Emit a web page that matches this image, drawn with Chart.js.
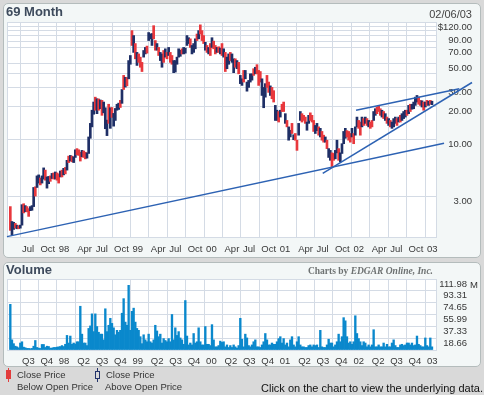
<!DOCTYPE html>
<html>
<head>
<meta charset="utf-8">
<script src="https://cdn.jsdelivr.net/npm/chart.js@4.4.1/dist/chart.umd.min.js"></script>
<style>
  body { margin: 0; background: #d9d9d9; font-family: 'Liberation Sans', Arial, sans-serif; }
  #page { position: relative; width: 484px; height: 395px; overflow: hidden; }
  .panel { position: absolute; left: 3px; width: 478px; background: #f3f7f7; border: 1px solid #b4bcbc; border-radius: 5px; box-sizing: border-box; }
  canvas { position: absolute; left: 0; }
  .txt { position: absolute; white-space: nowrap; color: #333; font-size: 9.5px; line-height: 11px; }
  .mark { position: absolute; }
</style>
</head>
<body>
<div id="page">
  <div class="panel" style="top:3px;height:255px"></div>
  <div class="panel" style="top:262px;height:105px"></div>
  <canvas id="price" width="484" height="260" style="top:0"></canvas>
  <canvas id="volume" width="484" height="114" style="top:258px"></canvas>

  <div class="txt" style="left:6px;top:5px;font:bold 13px/14px 'Liberation Sans';color:#3d4a5c">69 Month</div>
  <div class="txt" style="right:12px;top:8px;font-size:11px;line-height:12px;color:#444">02/06/03</div>
  <div class="txt" style="left:6px;top:263px;font:bold 13px/14px 'Liberation Sans';color:#3d4a5c">Volume</div>
  <div class="txt" style="right:51px;top:266px;font:bold 9.5px/11px 'Liberation Serif';color:#6e7272">Charts by <i>EDGAR Online, Inc.</i></div>
  <div class="txt" style="left:470px;top:279px">M</div>

  <div class="mark" style="left:7.5px;top:368px;width:1px;height:14px;background:#e23c3c"></div>
  <div class="mark" style="left:5.5px;top:370px;width:5px;height:9px;background:#e23c3c"></div>
  <div class="txt" style="left:17px;top:369px">Close Price</div>
  <div class="txt" style="left:17px;top:381px">Below Open Price</div>
  <div class="mark" style="left:96.5px;top:368px;width:1px;height:14px;background:#22336b"></div>
  <div class="mark" style="left:94.5px;top:370.5px;width:5px;height:8px;border:1px solid #22336b;background:#d9d9d9;box-sizing:border-box"></div>
  <div class="txt" style="left:106px;top:369px">Close Price</div>
  <div class="txt" style="left:105px;top:381px">Above Open Price</div>
  <div class="txt" style="left:261px;top:382px;font-size:11px;line-height:12px;color:#111">Click on the chart to view the underlying data.</div>
</div>
<script>
// months counted from Jan 1997 (6 = Jul 97, 72 = Jan 03)
const quarterTicks = [6, 9, 12, 15, 18, 21, 24, 27, 30, 33, 36, 39, 42, 45, 48, 51, 54, 57, 60, 63, 66, 69, 72];
const priceQuarterLabels = ['Jul', 'Oct', '98', 'Apr', 'Jul', 'Oct', '99', 'Apr', 'Jul', 'Oct', '00', 'Apr',
  'Jul', 'Oct', '01', 'Apr', 'Jul', 'Oct', '02', 'Apr', 'Jul', 'Oct', '03'];
const volumeQuarterLabels = ['Q3', 'Q4', '98', 'Q2', 'Q3', 'Q4', '99', 'Q2', 'Q3', 'Q4', '00', 'Q2',
  'Q3', 'Q4', '01', 'Q2', 'Q3', 'Q4', '02', 'Q2', 'Q3', 'Q4', '03'];

const priceGridValues = [3, 10, 20, 30, 40, 50, 70, 80, 90, 100, 110, 120];
const priceTickValues = [3, 10, 20, 30, 50, 70, 90, 120];
const priceTickLabels = ['3.00', '10.00', '20.00', '30.00', '50.00', '70.00', '90.00', '$120.00'];
const volumeTickValues = [18.66, 37.33, 55.99, 74.65, 93.31, 111.98];

// bars run from mid May 1997 to early Feb 2003
const firstBarMonth = 4.42;
const barStepMonths = 0.2716;

const priceHigh = [
  2.4, 1.75, 1.72, 1.68, 1.62, 1.6, 1.62, 2.5, 2.55, 2.45,
  2.4, 2.3, 2.4, 2.45, 3.6, 3.65, 4.6, 4.7, 4.4, 4.6,
  5.45, 5.2, 4.5, 4.55, 4.6, 4.85, 4.9, 5.0, 4.9, 4.8,
  5.1, 5.2, 5.4, 5.5, 6.4, 7.0, 7.1, 7.0, 6.9, 8.0,
  8.2, 8.0, 7.6, 7.9, 7.8, 7.6, 7.5, 10.5, 14, 18.5,
  22, 24.4, 23.6, 23.5, 23, 22.8, 22, 19.5, 15, 21,
  19.5, 19.6, 17.3, 19.2, 21, 21.5, 22.8, 28.7, 38.7, 37.2,
  37, 53, 59, 100, 90, 76, 63, 61, 57, 51,
  65.6, 70, 72, 96, 93, 94, 111, 81, 76, 70,
  63, 61, 65.6, 68, 63, 70, 63, 59, 53, 53,
  57, 68, 66, 68, 70, 69, 90, 86, 84, 73,
  76, 84, 93, 100, 113, 100, 90, 78, 73, 70,
  76, 86, 80, 73, 70, 71, 69, 76, 68, 63,
  57, 61, 63, 61, 55, 55, 53, 51, 38.7, 36,
  43, 43, 33.6, 34.8, 40, 40, 44.6, 46, 48.6, 43,
  42, 36, 30, 32.5, 38.7, 33.6, 31, 30, 28, 20.5,
  18.5, 18, 18.5, 21, 22, 17.2, 14.9, 13, 12.1, 14,
  11, 11.3, 9.8, 14, 18, 17.2, 16.6, 16, 14.4, 16.6,
  17.5, 16.6, 14.9, 13.4, 14, 13, 12.6, 11.8, 10.9, 10.5,
  9.8, 8.2, 7.9, 7.5, 7.4, 7.9, 9.8, 8.2, 7.5, 9.1,
  11.8, 12.6, 12, 11.8, 11.3, 12.6, 11.3, 13, 16, 14.9,
  14.4, 16, 15.5, 16, 15.5, 14.9, 14.4, 14.9, 18, 19.1,
  19.8, 20.5, 19.1, 18.5, 18, 17.2, 16, 15.5, 14.9, 14.4,
  15.5, 16, 15.5, 16, 16.6, 17.2, 18, 18.5, 18.5, 20.5,
  21, 21, 22, 24.4, 25.3, 24.4, 22.8, 22.6, 22, 22,
  22.8, 22.4, 22.8, 22.4
];
const priceLow = [
  1.45, 1.32, 1.48, 1.52, 1.5, 1.5, 1.52, 1.62, 2.1, 2.15,
  2.15, 1.95, 2.2, 2.22, 2.4, 3.0, 3.6, 3.95, 3.8, 3.95,
  4.3, 4.2, 3.55, 3.9, 4.1, 4.35, 4.3, 4.3, 4.2, 3.95,
  4.5, 4.5, 4.7, 4.8, 5.2, 6.1, 6.3, 6.2, 6.1, 6.8,
  7.2, 7.1, 6.3, 6.9, 6.8, 6.6, 6.7, 7.4, 10.2, 13,
  17, 18.5, 17.2, 18.5, 19.1, 16.6, 17.5, 12.5, 10.8, 14,
  12.6, 15.9, 13.2, 14.9, 18.5, 18.8, 19.6, 21.4, 28.7, 30.2,
  31, 36, 49, 73, 63, 55, 47.8, 51, 46, 42,
  57, 61, 62, 81, 84, 73, 84, 66, 66, 59,
  53, 46, 51, 57, 55, 59, 51, 49, 41, 41.5,
  49, 57, 58, 61, 61, 62, 73, 76, 70, 61,
  63, 68, 81, 84, 93, 81, 76, 66, 63, 61,
  59, 70, 68, 61, 63, 63, 61, 59, 57, 42,
  44.6, 49, 53, 51, 41, 46, 44.6, 40, 32.5, 31.3,
  33.6, 36, 27.7, 30, 33.6, 35, 38.7, 40, 40, 31.3,
  33.6, 25.3, 19.5, 24.4, 30, 27, 25.3, 23.6, 22, 14.9,
  14.9, 14.4, 16, 18, 18, 14, 13, 9.8, 10.5, 11.3,
  9.9, 9.8, 7.9, 10.9, 14.9, 14.4, 14.9, 14, 12.1, 14,
  14.9, 14.4, 11.8, 11.3, 12, 10.9, 10.5, 9.8, 9.4, 9.4,
  8.2, 6.8, 6.4, 5.6, 6.4, 6.6, 7.5, 6.4, 6.2, 7.4,
  9.1, 10.2, 10.5, 9.8, 9.4, 10.5, 9.1, 10.9, 13, 12.6,
  10.9, 13, 13.4, 14, 13.4, 13, 12.6, 13, 14.9, 16.6,
  17.2, 18, 16.6, 16, 15.5, 14.9, 14, 13.4, 13, 12.6,
  13, 14, 13.4, 14.4, 14.4, 14.9, 15.5, 16, 16.6, 17.2,
  18, 18.9, 19.1, 20.5, 22, 21, 20.5, 19.8, 18.5, 19.8,
  20.5, 20.5, 21, 20.8
];
// 1 = close above open, 0 = close below open
const priceUp = [
  0, 1, 1, 0, 1, 0, 1, 1, 0, 1,
  0, 0, 1, 1, 1, 0, 1, 1, 0, 1,
  1, 0, 1, 1, 0, 1, 0, 1, 0, 0,
  1, 0, 1, 0, 1, 0, 1, 0, 1, 1,
  0, 0, 0, 1, 0, 0, 1, 1, 1, 1,
  1, 0, 1, 0, 1, 0, 1, 1, 1, 0,
  1, 0, 1, 1, 1, 1, 0, 1, 0, 1,
  0, 1, 1, 0, 1, 0, 1, 0, 0, 0,
  1, 1, 0, 1, 1, 1, 0, 0, 1, 0,
  1, 1, 0, 1, 0, 1, 0, 0, 1, 1,
  1, 1, 1, 0, 1, 1, 1, 1, 0, 1,
  1, 1, 0, 1, 0, 0, 0, 1, 0, 1,
  0, 1, 0, 0, 1, 0, 1, 0, 1, 0,
  1, 1, 0, 1, 1, 0, 1, 0, 1, 1,
  0, 1, 1, 1, 1, 1, 0, 1, 0, 0,
  0, 1, 1, 1, 0, 0, 1, 0, 0, 1,
  1, 0, 1, 0, 0, 1, 0, 1, 1, 0,
  1, 0, 0, 1, 1, 0, 0, 0, 1, 1,
  0, 0, 0, 1, 1, 0, 1, 0, 0, 1,
  0, 1, 1, 0, 0, 1, 1, 0, 1, 1,
  1, 1, 0, 0, 0, 1, 0, 1, 1, 0,
  0, 1, 0, 1, 0, 1, 0, 0, 1, 1,
  0, 0, 0, 1, 0, 1, 0, 1, 0, 1,
  1, 1, 0, 1, 0, 1, 1, 1, 0, 1,
  0, 1, 1, 1, 1, 0, 0, 1, 0, 1,
  0, 1, 0, 1
];
// millions of shares
const volume = [
  72, 16, 10, 6, 5, 3.5, 11, 13, 4.5, 3.5,
  2.5, 2.5, 2, 2.5, 6, 15, 4, 3, 2.5, 8.7,
  8.7, 4, 6, 5.5, 3, 3, 4, 4, 4.5, 5,
  5.5, 7, 5.5, 9, 23, 11, 22, 9, 11, 9.5,
  13, 13, 69, 25, 11, 11, 7, 34, 38, 57,
  29, 57, 37, 28, 25, 25, 16, 65, 29, 39,
  50, 42, 35, 24, 31, 28, 31, 58, 81, 44,
  39, 102, 31, 61, 66, 44, 34, 31, 21, 10,
  24, 16, 13, 25, 13, 11, 16, 39, 30, 21,
  25, 11, 18, 15, 13, 18, 13, 56, 16, 35,
  23, 29, 19, 16, 9, 78, 22, 8, 11, 8,
  26, 11, 13, 35, 13, 8, 8, 37, 9, 9,
  7, 40, 16, 5, 5, 7, 14, 12, 13, 5,
  8, 4, 7, 4, 8, 5, 3, 7, 50, 17,
  5, 25, 19, 7, 5, 8, 13, 16, 5, 5,
  4, 8, 13, 26, 16, 8, 8, 11, 9, 9,
  13, 18, 21, 11, 18, 8, 11, 5, 16, 21,
  8, 5, 13, 21, 8, 5, 5, 4, 4, 7,
  8, 5, 8, 7, 8, 4, 31, 5, 4, 4,
  8, 17, 11, 11, 5, 8, 13, 25, 13, 21,
  51, 46, 21, 11, 13, 9, 13, 54, 26, 18,
  13, 7, 13, 11, 5, 8, 5, 8, 32, 5,
  5, 8, 5, 5, 11, 5, 9, 5, 5, 11,
  16, 7, 4, 4, 8, 9, 7, 8, 11, 11,
  8, 11, 7, 8, 22, 9, 7, 5, 5, 19,
  7, 5, 19, 5
];
// trend lines: [month, price] end points
const trendLines = [
  [[3.88, 1.27], [75.1, 9.19]],
  [[55.33, 4.85], [79.66, 33.3]],
  [[60.76, 18.45], [77.59, 29.2]]
];

const gridColor = '#d4dbe5';
const tickColor = '#383838';
const tickFont = { family: "'Liberation Sans', Arial, sans-serif", size: 9.5 };
const barMonths = priceHigh.map((_, i) => firstBarMonth + i * barStepMonths);

const plotFrame = {
  id: 'plotFrame',
  beforeDraw(chart) {
    const { ctx, chartArea: a } = chart;
    ctx.save();
    ctx.fillStyle = '#ffffff';
    ctx.fillRect(a.left, a.top, a.right - a.left, a.bottom - a.top);
    ctx.strokeStyle = gridColor;
    ctx.lineWidth = 1;
    ctx.strokeRect(Math.round(a.left) + 0.5, Math.round(a.top) + 0.5,
      Math.round(a.right - a.left), Math.round(a.bottom - a.top));
    ctx.restore();
  }
};

function quarterAxis(labels, pad) {
  return {
    type: 'linear', min: 3.88, max: 73.79, bounds: 'data', offset: false,
    grid: { color: gridColor, drawTicks: false, offset: false },
    border: { color: gridColor },
    ticks: {
      autoSkip: false, maxRotation: 0, align: 'start', labelOffset: 2, padding: pad,
      color: tickColor, font: tickFont,
      callback: (v, i) => labels[i]
    },
    afterBuildTicks: s => { s.ticks = quarterTicks.map(v => ({ value: v })); },
    afterFit: s => { s.height = 20; }
  };
}

new Chart(document.getElementById('price'), {
  type: 'bar',
  data: {
    datasets: [
      {
        type: 'bar',
        data: barMonths.map((m, i) => ({ x: m, y: [priceLow[i], priceHigh[i]] })),
        backgroundColor: priceUp.map(u => u ? '#1f2f66' : '#e8383d'),
        barThickness: 2,
        borderWidth: 0,
        order: 2
      },
      ...trendLines.map(t => ({
        type: 'line',
        data: t.map(([x, y]) => ({ x, y })),
        borderColor: '#2d62b3',
        borderWidth: 1.5,
        pointRadius: 0,
        clip: false,
        order: 1
      }))
    ]
  },
  options: {
    responsive: false,
    animation: false,
    layout: { padding: { left: 7, top: 22, right: 12, bottom: 3 } },
    plugins: { legend: { display: false }, tooltip: { enabled: false } },
    scales: {
      x: quarterAxis(priceQuarterLabels, 7),
      y: {
        type: 'logarithmic', position: 'right', min: 1.26, max: 120, bounds: 'data',
        grid: { color: gridColor, drawTicks: false },
        border: { color: gridColor },
        ticks: {
          autoSkip: false, crossAlign: 'far', padding: 2, labelOffset: 5,
          color: tickColor, font: tickFont,
          callback: v => {
            const k = priceTickValues.indexOf(v);
            return k < 0 ? '' : priceTickLabels[k];
          }
        },
        afterBuildTicks: s => { s.ticks = priceGridValues.map(v => ({ value: v })); },
        afterFit: s => { s.width = 36; }
      }
    }
  },
  plugins: [plotFrame]
});

new Chart(document.getElementById('volume'), {
  type: 'bar',
  data: {
    datasets: [{
      data: barMonths.map((m, i) => ({ x: m, y: volume[i] })),
      backgroundColor: '#0a88cc',
      barThickness: 1.7,
      borderWidth: 0
    }]
  },
  options: {
    responsive: false,
    animation: false,
    layout: { padding: { left: 7, top: 21, right: 17, bottom: 2 } },
    plugins: { legend: { display: false }, tooltip: { enabled: false } },
    scales: {
      x: quarterAxis(volumeQuarterLabels, 6),
      y: {
        type: 'linear', position: 'right', min: 0, max: 111.98, bounds: 'data',
        grid: { color: gridColor, drawTicks: false },
        border: { color: gridColor },
        ticks: {
          autoSkip: false, crossAlign: 'far', padding: 2, labelOffset: 5,
          color: tickColor, font: tickFont,
          callback: v => v === 0 ? '' : v.toFixed(2)
        },
        afterBuildTicks: s => { s.ticks = [0, ...volumeTickValues].map(v => ({ value: v })); },
        afterFit: s => { s.width = 31; }
      }
    }
  },
  plugins: [plotFrame]
});
</script>
</body>
</html>
